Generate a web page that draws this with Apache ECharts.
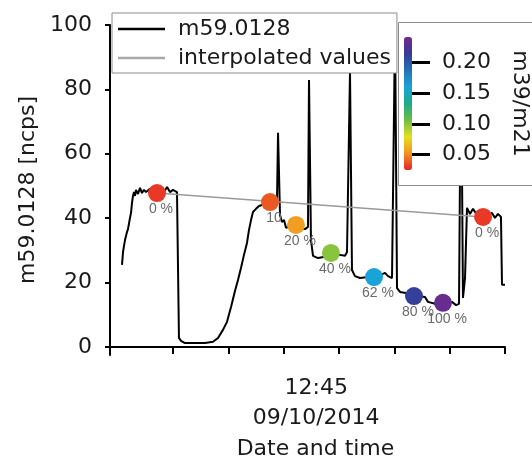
<!DOCTYPE html>
<html>
<head>
<meta charset="utf-8">
<script src="https://cdn.jsdelivr.net/npm/echarts@6/dist/echarts.min.js"></script>
<style>
html, body { margin: 0; padding: 0; background: #fff; }
#chart { width: 532px; height: 459px; }
</style>
</head>
<body>
<div id="chart"></div>
<script>
// m59.0128 signal trace: time (axis units) and signal (ncps)
const traceT = [1.52, 1.65, 1.77, 1.90, 2.15, 2.28, 2.53, 2.66, 2.78, 2.91, 3.04, 3.16, 3.29, 3.54, 3.80, 4.05, 4.30, 4.56, 5.06, 5.70,
  6.33, 6.84, 7.22, 7.59, 7.97, 8.48, 8.61, 8.73, 8.99, 9.49, 10.76, 12.03, 13.04, 13.67, 14.30, 14.81, 15.32, 15.82, 16.20, 16.58,
  16.96, 17.34, 17.59, 17.85, 18.10, 18.48, 18.86, 19.24, 19.62, 20.00, 20.51, 20.89, 21.14, 21.27, 21.52, 21.77, 22.03, 22.28, 22.78, 23.42,
  24.05, 24.68, 25.06, 25.19, 25.44, 25.70, 26.33, 27.22, 28.23, 29.11, 29.75, 30.00, 30.25, 30.38, 30.63, 31.01, 31.65, 32.66, 33.92, 34.81,
  35.19, 35.70, 35.95, 36.08, 36.33, 36.71, 37.97, 38.99, 39.87, 40.25, 41.14, 42.41, 43.29, 43.80, 44.18, 44.43, 44.68, 44.94, 45.19, 45.57,
  45.95, 46.46, 47.47, 48.35, 48.73, 49.11, 49.49, 49.62, 50.00];
const traceY = [25.5, 29.5, 31.4, 33.2, 35.7, 36.6, 40.1, 41.6, 44.7, 46.9, 48.1, 46.9, 48.8, 47.5, 49.4, 47.8, 48.8, 48.1, 49.1, 48.4,
  48.8, 48.1, 49.7, 48.1, 48.8, 48.1, 47.8, 2.8, 1.9, 1.2, 1.2, 1.2, 1.6, 2.8, 5.3, 7.8, 12.4, 17.4, 20.8, 24.5,
  28.6, 32.3, 36.3, 39.4, 41.9, 42.9, 43.8, 44.1, 45.3, 44.7, 45.7, 44.7, 45.7, 66.5, 41.0, 38.8, 39.4, 37.0, 37.3, 36.6,
  37.0, 36.6, 37.3, 82.9, 33.2, 28.3, 27.6, 28.0, 28.0, 28.6, 28.3, 29.5, 28.9, 85.4, 23.9, 22.0, 21.4, 21.7, 22.0, 23.0,
  22.0, 21.4, 20.8, 100, 18.3, 17.1, 16.5, 15.8, 15.5, 14.0, 13.4, 13.4, 14.0, 13.0, 13.4, 95.3, 15.2, 21.4, 43.2, 41.3,
  42.9, 41.0, 40.7, 41.6, 40.1, 41.3, 40.4, 19.3, 19.3];

// calibration steps: time, signal, m39/m21 ratio, humidity label
const stepT = [5.95, 20.25, 23.54, 27.97, 33.42, 38.48, 42.15, 47.22];
const stepY = [47.8, 45.0, 37.9, 29.2, 21.7, 15.8, 13.7, 40.4];
const stepRatio = [0.030, 0.038, 0.056, 0.101, 0.160, 0.212, 0.238, 0.030];
const stepLabels = ['0 %', '10', '20 %', '40 %', '62 %', '80 %', '100 %', '0 %'];

// interpolated baseline between the two 0 % steps
const interpT = [5.95, 47.22];
const interpY = [47.8, 40.4];

// axis ticks and labels
const yTicks = [0, 20, 40, 60, 80, 100];
const xTicks = [8, 15, 22, 29, 36, 43, 50];
const timeLabelT = [26.1];
const timeLabelText = ['12:45\n09/10/2014'];
const ratioTicks = [0.05, 0.10, 0.15, 0.20];
const ratioRange = [0.025, 0.242];
const ratioColors = ['#e42526', '#f39220', '#e3e01f', '#6fbe44', '#1fa98a', '#1aa3d9', '#2372b8', '#383a97', '#702a8c'];

const FONT = 'DejaVu Sans';
const TEXT = '#1a1a1a';

const chart = echarts.init(document.getElementById('chart'), null, { renderer: 'canvas' });

const traceData = traceT.map((t, i) => [t, traceY[i]]);
const interpData = interpT.map((t, i) => [t, interpY[i]]);
const stepData = stepT.map((t, i) => ({ name: stepLabels[i], value: [t, stepY[i], stepRatio[i]] }));

chart.setOption({
  animation: false,
  backgroundColor: '#fff',
  textStyle: { fontFamily: FONT },
  grid: [
    { left: 110, right: 27, top: 25, bottom: 104, containLabel: false, outerBoundsMode: 'none' },
    { left: 404, top: 37, width: 8, height: 133, containLabel: false, outerBoundsMode: 'none' }
  ],
  legend: {
    data: ['m59.0128', 'interpolated values'],
    orient: 'vertical',
    left: 112,
    top: 13,
    padding: [4, 6, 3, 6],
    icon: 'rect',
    itemWidth: 47,
    itemHeight: 2.5,
    itemGap: 5,
    selectedMode: false,
    backgroundColor: '#fff',
    borderColor: '#8c8c8c',
    borderWidth: 1,
    z: 6,
    textStyle: { fontFamily: FONT, fontSize: 22, lineHeight: 24, color: TEXT, padding: [0, 0, 0, 8] }
  },
  visualMap: {
    type: 'continuous',
    seriesIndex: 2,
    dimension: 2,
    min: ratioRange[0],
    max: ratioRange[1],
    calculable: false,
    hoverLink: false,
    left: 404,
    top: 37,
    itemWidth: 8,
    itemHeight: 133,
    padding: 0,
    z: 12,
    inRange: { color: ratioColors }
  },
  graphic: [{
    type: 'rect',
    z: 5,
    shape: { x: 398.5, y: 22.5, width: 150, height: 163 },
    style: { fill: '#fff', stroke: '#8c8c8c', lineWidth: 1 }
  }],
  xAxis: [{
    type: 'value',
    gridIndex: 0,
    min: 0,
    max: 50,
    axisLine: { lineStyle: { color: '#000', width: 2 } },
    axisTick: { customValues: xTicks, length: 7, lineStyle: { color: '#000', width: 2 } },
    axisLabel: {
      customValues: timeLabelT,
      formatter: v => { const i = timeLabelT.indexOf(v); return i >= 0 ? timeLabelText[i] : ''; },
      fontFamily: FONT, fontSize: 22, lineHeight: 30, color: TEXT, margin: 18
    },
    splitLine: { show: false },
    name: 'Date and time',
    nameLocation: 'middle',
    nameGap: 82,
    nameTextStyle: { fontFamily: FONT, fontSize: 22, color: TEXT, padding: [0, 0, 0, 16] }
  }, {
    type: 'value',
    gridIndex: 1,
    min: 0,
    max: 1,
    show: false
  }],
  yAxis: [{
    type: 'value',
    gridIndex: 0,
    min: -2.5,
    max: 100,
    axisLine: { show: true, lineStyle: { color: '#000', width: 2 } },
    axisTick: { show: true, customValues: yTicks, length: 5, lineStyle: { color: '#000', width: 2 } },
    axisLabel: { customValues: yTicks, fontFamily: FONT, fontSize: 22, color: TEXT, margin: 18 },
    splitLine: { show: false },
    name: 'm59.0128 [ncps]',
    nameLocation: 'middle',
    nameGap: 71,
    nameTextStyle: { fontFamily: FONT, fontSize: 22, color: TEXT }
  }, {
    type: 'value',
    gridIndex: 1,
    position: 'right',
    min: ratioRange[0],
    max: ratioRange[1],
    z: 10,
    axisLine: { show: false },
    // ticks start under the colour bar, which is drawn on top of them
    axisTick: { show: true, customValues: ratioTicks, length: 26, lineStyle: { color: '#000', width: 3 } },
    axisLabel: { customValues: ratioTicks, formatter: v => v.toFixed(2), fontFamily: FONT, fontSize: 22, color: TEXT, margin: 30 },
    splitLine: { show: false },
    name: 'm39/m21',
    nameLocation: 'middle',
    nameRotate: -90,
    nameGap: 97,
    nameTextStyle: { fontFamily: FONT, fontSize: 22, color: TEXT }
  }],
  series: [{
    name: 'm59.0128',
    type: 'line',
    xAxisIndex: 0,
    yAxisIndex: 0,
    data: traceData,
    symbol: 'none',
    z: 2,
    lineStyle: { color: '#000', width: 2 },
    itemStyle: { color: '#000' }
  }, {
    name: 'interpolated values',
    type: 'line',
    xAxisIndex: 0,
    yAxisIndex: 0,
    data: interpData,
    symbol: 'none',
    z: 3,
    lineStyle: { color: '#9a9a9a', width: 1.5 },
    itemStyle: { color: '#a8a8a8' }
  }, {
    name: 'steps',
    type: 'scatter',
    xAxisIndex: 0,
    yAxisIndex: 0,
    data: stepData,
    symbolSize: 18,
    z: 4,
    itemStyle: { opacity: 1 },
    label: {
      show: true,
      position: 'bottom',
      distance: 0,
      offset: [4, 0],
      formatter: p => p.name,
      fontFamily: 'Liberation Sans',
      fontSize: 14,
      color: '#6a6a6a'
    }
  }]
});
</script>
</body>
</html>
